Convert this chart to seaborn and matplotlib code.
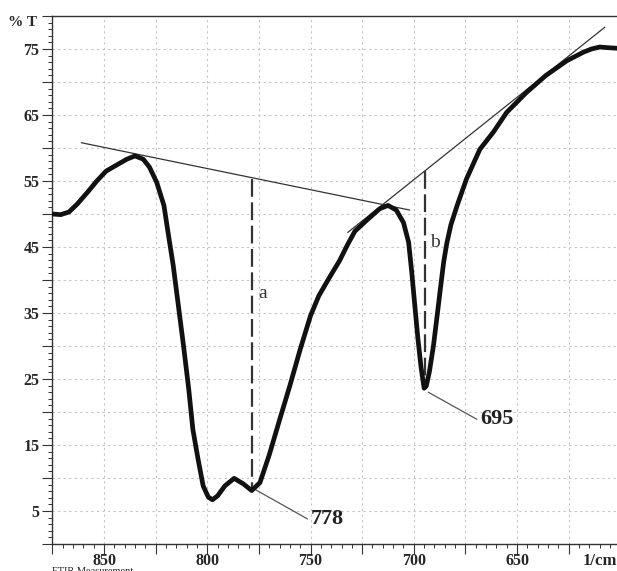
import matplotlib
matplotlib.use("Agg")
import matplotlib.pyplot as plt
from matplotlib.ticker import MultipleLocator, FuncFormatter
import pandas as pd
import seaborn as sns

# FTIR transmittance spectrum
wavenumber = [875, 871, 867, 863, 858, 853.5, 849, 844, 839, 835, 831, 828,
              824.5, 821, 819, 816.5, 814, 811.5, 809, 807, 804.5, 802, 799.5,
              797.5, 795, 791.5, 787, 782.5, 778.5, 774.5, 770, 765, 760, 755,
              750, 746, 741, 736, 732, 728.5, 723, 716.5, 712.5, 708.5, 705,
              702.5, 701, 699.5, 698, 696.5, 695, 694, 692.5, 690.5, 688.5, 687,
              685.5, 684, 682, 679, 674.5, 668, 661.5, 655, 645.5, 636, 626,
              618, 614, 610, 606, 601]
transmittance = [50.0, 49.9, 50.3, 51.5, 53.3, 55.0, 56.5, 57.4, 58.3, 58.8,
                 58.3, 57.1, 54.8, 51.3, 47.2, 42.2, 36.1, 30.0, 23.5, 17.4,
                 12.9, 8.8, 7.1, 6.7, 7.3, 8.8, 9.95, 9.1, 8.1, 9.3, 13.5, 18.8,
                 24.0, 29.5, 34.6, 37.6, 40.3, 42.9, 45.4, 47.4, 49.0, 50.8,
                 51.3, 50.6, 48.7, 45.7, 41.2, 36.1, 31.1, 26.8, 23.6, 23.9,
                 26.0, 30.0, 35.1, 39.0, 42.8, 45.6, 48.4, 51.3, 55.3, 59.8,
                 62.4, 65.4, 68.4, 71.0, 73.2, 74.5, 75.0, 75.3, 75.2, 75.1]

# tangent baselines and band depths
baseline_a_x = [861, 702]
baseline_a_y = [60.8, 50.6]
baseline_b_x = [732, 607.5]
baseline_b_y = [47.2, 78.3]
depth_a_x = [778.5, 778.5]
depth_a_y = [55.3, 8.1]
depth_b_x = [694.6, 694.6]
depth_b_y = [56.5, 23.6]

peak_labels = ["778", "695"]
peak_points = [(776.5, 8.2), (693.0, 23.0)]
peak_text_pos = [(751.5, 3.8), (669.5, 18.9)]

df = pd.DataFrame({"wavenumber": wavenumber, "T": transmittance})

sns.set_style("white")
plt.rcParams["font.family"] = ["Liberation Serif", "DejaVu Serif"]

fig = plt.figure(figsize=(6.17, 5.71), dpi=100)
ax = fig.add_axes([52 / 617, 27 / 571, 1 - 52 / 617, (544 - 16) / 571])

ax.plot(baseline_a_x, baseline_a_y, color="#333333", linewidth=0.9)
ax.plot(baseline_b_x, baseline_b_y, color="#333333", linewidth=0.9)
ax.plot(depth_a_x, depth_a_y, color="#333333", linewidth=1.6, dashes=(8, 2.5))
ax.plot(depth_b_x, depth_b_y, color="#333333", linewidth=1.6, dashes=(8, 2.5))

sns.lineplot(data=df, x="wavenumber", y="T", sort=False, color="#111111",
             linewidth=3.4, ax=ax, zorder=5)
for line in ax.get_lines():
    line.set_solid_joinstyle("round")
    line.set_solid_capstyle("round")

for label, (px, py), (tx, ty) in zip(peak_labels, peak_points, peak_text_pos):
    ax.plot([px, tx], [py, ty], color="#555555", linewidth=0.9)
    ax.text(tx - 1.5, ty, label, fontsize=16, fontweight="bold",
            ha="left", va="center", color="#222222")

ax.text(773, 38, "a", fontsize=14, color="#333333", ha="center", va="center")
ax.text(689.8, 45.7, "b", fontsize=14, color="#333333", ha="center", va="center")

ax.set_xlim(875.2, 601.6)
ax.set_ylim(0, 80)
ax.set_xlabel("")
ax.set_ylabel("")

ax.xaxis.set_major_locator(MultipleLocator(25))
ax.xaxis.set_minor_locator(MultipleLocator(5))
ax.yaxis.set_major_locator(MultipleLocator(5))
ax.yaxis.set_minor_locator(MultipleLocator(1))
ax.xaxis.set_major_formatter(FuncFormatter(lambda v, _: f"{v:.0f}" if round(v) % 50 == 0 else ""))
ax.yaxis.set_major_formatter(FuncFormatter(lambda v, _: f"{v:.0f}" if round(v) % 10 == 5 else ""))
ax.tick_params(axis="both", which="major", direction="out", length=7, width=0.8,
               color="#333333", labelsize=11.5)
ax.tick_params(axis="x", which="major", pad=-0.5)
ax.tick_params(axis="y", which="major", pad=2)
ax.tick_params(axis="both", which="minor", direction="out", length=3, width=0.7,
               color="#333333")
ax.tick_params(left=True, bottom=True, which="both")
for lab in ax.get_xticklabels() + ax.get_yticklabels():
    lab.set_fontweight("bold")

ax.grid(True, which="major", color="#c4c4c4", linestyle=(0, (2, 3)), linewidth=0.8)
ax.set_axisbelow(True)

for side in ("left", "bottom", "top"):
    ax.spines[side].set_color("#333333")
    ax.spines[side].set_linewidth(1.0)
ax.spines["right"].set_visible(False)

fig.text(8 / 617, 1 - 22 / 571, "% T", fontsize=11, fontweight="bold",
         ha="left", va="center")
fig.text(1.0, 1 - 561 / 571, "1/cm", fontsize=12, fontweight="bold",
         ha="right", va="center")
fig.text(52 / 617, 1 - 567.5 / 571, "FTIR Measurement", fontsize=7.5,
         ha="left", va="top")

fig.savefig("out.png", dpi=100)
